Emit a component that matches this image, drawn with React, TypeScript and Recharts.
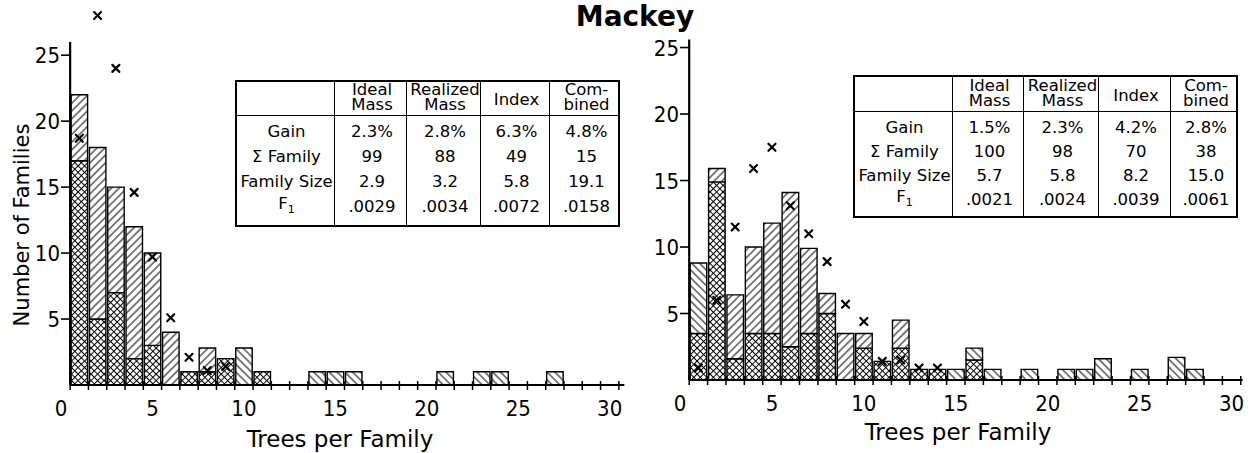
import { ComposedChart, Bar, Scatter, XAxis, YAxis, ReferenceLine } from "recharts";

// histogram bins (trees per family)
const bins = [1, 2, 3, 4, 5, 6, 7, 8, 9, 10, 11, 12, 13, 14, 15, 16, 17, 18, 19, 20, 21, 22, 23, 24, 25, 26, 27, 28, 29, 30];

// left panel, stacked parts: cross-hatched / forward hatch / back hatch
const leftCross = [17, 5, 7, 2, 3, 0, 1, 1, 2, 0, 1, 0, 0, 0, 0, 0, 0, 0, 0, 0, 0, 0, 0, 0, 0, 0, 0, 0, 0, 0];
const leftFwd = [5, 13, 8, 10, 7, 4, 0, 1.8, 0, 0, 0, 0, 0, 0, 0, 0, 0, 0, 0, 0, 0, 0, 0, 0, 0, 0, 0, 0, 0, 0];
const leftBack = [0, 0, 0, 0, 0, 0, 0, 0, 0, 2.8, 0, 0, 0, 1, 1, 1, 0, 0, 0, 0, 1, 0, 1, 1, 0, 0, 1, 0, 0, 0];
const leftMarkX = [1, 2, 3, 4, 5, 6, 7, 8, 9];
const leftMarkY = [18.7, 28, 24, 14.6, 9.7, 5.1, 2.1, 1.1, 1.4];

// right panel
const rightCross = [3.5, 14.9, 1.6, 3.5, 3.5, 2.5, 3.5, 5.0, 0, 2.4, 1.4, 2.4, 0.8, 0.8, 0, 1.5, 0, 0, 0, 0, 0, 0, 0, 0, 0, 0, 0, 0, 0, 0];
const rightFwd = [0, 1.0, 4.8, 6.5, 8.3, 11.6, 6.4, 1.5, 3.5, 1.1, 0, 2.1, 0, 0, 0, 0, 0, 0, 0, 0, 0, 0, 0, 0, 0, 0, 0, 0, 0, 0];
const rightBack = [5.3, 0, 0, 0, 0, 0, 0, 0, 0, 0, 0, 0, 0, 0, 0.8, 0.9, 0.8, 0, 0.8, 0, 0.8, 0.8, 1.6, 0, 0.8, 0, 1.7, 0.8, 0, 0];
const rightMarkX = [1, 2, 3, 4, 5, 6, 7, 8, 9, 10, 11, 12, 13, 14];
const rightMarkY = [0.9, 6.0, 11.5, 15.9, 17.5, 13.1, 11.0, 8.9, 5.7, 4.4, 1.4, 1.5, 0.9, 0.9];

const xLabelTicks = [0, 5, 10, 15, 20, 25, 30];
const xMinorTicks = [0.5, 1.5, 2.5, 3.5, 4.5, 5.5, 6.5, 7.5, 8.5, 9.5, 10.5, 11.5, 12.5, 13.5, 14.5, 15.5, 16.5, 17.5, 18.5, 19.5, 20.5, 21.5, 22.5, 23.5, 24.5, 25.5, 26.5, 27.5, 28.5, 29.5, 30.5];
const yTicks = [5, 10, 15, 20, 25];

// table
const tableHeaders = ["Ideal\nMass", "Realized\nMass", "Index", "Com-\nbined"];
const rowLabels = ["Gain", "Σ Family", "Family Size", "F1"];
const leftGain = ["2.3%", "2.8%", "6.3%", "4.8%"];
const leftFamilies = ["99", "88", "49", "15"];
const leftSize = ["2.9", "3.2", "5.8", "19.1"];
const leftF1 = [".0029", ".0034", ".0072", ".0158"];
const rightGain = ["1.5%", "2.3%", "4.2%", "2.8%"];
const rightFamilies = ["100", "98", "70", "38"];
const rightSize = ["5.7", "5.8", "8.2", "15.0"];
const rightF1 = [".0021", ".0024", ".0039", ".0061"];

const NUM_FONT = "'DejaVu Sans Condensed', 'DejaVu Sans', sans-serif";
const FONT = "'DejaVu Sans', sans-serif";
const Y_AXIS_W = 61;
const X_MAX = 31;

const XMark = (props: any) => {
  const { cx, cy } = props;
  if (cx == null || cy == null) return null;
  const s = 3.5;
  return (
    <g stroke="#000" strokeWidth={2.2} strokeLinecap="round">
      <line x1={cx - s} y1={cy - s} x2={cx + s} y2={cy + s} />
      <line x1={cx - s} y1={cy + s} x2={cx + s} y2={cy - s} />
    </g>
  );
};

interface PanelProps {
  id: string;
  left: number;
  width: number;
  marginTop: number;
  marginRight: number;
  xAxisHeight: number;
  cross: number[];
  fwd: number[];
  back: number[];
  markX: number[];
  markY: number[];
  axisTop: number;
  axisEnd: number;
}

function Panel(p: PanelProps) {
  const data = bins.map((x, i) => ({ x, cross: p.cross[i], fwd: p.fwd[i], back: p.back[i] }));
  const marks = p.markX.map((x, i) => ({ x, y: p.markY[i] }));
  const plotW = p.width - Y_AXIS_W - p.marginRight;
  const unit = plotW / X_MAX;
  const half = unit / 2;
  const allTicks = [...xLabelTicks, ...xMinorTicks].sort((a, b) => a - b);

  const xTick = ({ x, y, payload }: any) => {
    const v = payload.value;
    if (Number.isInteger(v)) {
      return (
        <text x={x} y={y + 31} textAnchor="middle" fontSize={22} fontFamily={NUM_FONT} fill="#000">
          {v}
        </text>
      );
    }
    return <line x1={x} x2={x} y1={y - 4} y2={y + 5} stroke="#000" strokeWidth={1.5} />;
  };

  const yTick = ({ x, y, payload }: any) => (
    <g>
      <line x1={x} x2={x + half} y1={y} y2={y} stroke="#000" strokeWidth={1.6} />
      <text x={x - 1} y={y + 8} textAnchor="end" fontSize={22} fontFamily={NUM_FONT} fill="#000">
        {payload.value}
      </text>
    </g>
  );

  return (
    <div style={{ position: "absolute", left: p.left, top: 0 }}>
      <ComposedChart
        width={p.width}
        height={453}
        data={data}
        margin={{ top: p.marginTop, right: p.marginRight, left: 0, bottom: 0 }}
        barCategoryGap={0}
        barGap={0}
        barSize={unit}
      >
        <defs>
          <pattern id={`cross-${p.id}`} patternUnits="userSpaceOnUse" width={4.6} height={4.6} patternTransform="rotate(45)">
            <rect width={4.6} height={4.6} fill="#fff" />
            <line x1={2.3} y1={0} x2={2.3} y2={4.6} stroke="#000" strokeWidth={1} />
            <line x1={0} y1={2.3} x2={4.6} y2={2.3} stroke="#000" strokeWidth={1} />
          </pattern>
          <pattern id={`fwd-${p.id}`} patternUnits="userSpaceOnUse" width={5.5} height={5.5} patternTransform="rotate(45)">
            <rect width={5.5} height={5.5} fill="#fff" />
            <line x1={2.75} y1={0} x2={2.75} y2={5.5} stroke="#000" strokeWidth={1} />
          </pattern>
          <pattern id={`back-${p.id}`} patternUnits="userSpaceOnUse" width={5.5} height={5.5} patternTransform="rotate(-45)">
            <rect width={5.5} height={5.5} fill="#fff" />
            <line x1={2.75} y1={0} x2={2.75} y2={5.5} stroke="#000" strokeWidth={1} />
          </pattern>
        </defs>
        <XAxis
          dataKey="x"
          type="number"
          domain={[0, X_MAX]}
          ticks={allTicks}
          interval={0}
          axisLine={false}
          tickLine={false}
          tickSize={0}
          tickMargin={0}
          height={p.xAxisHeight}
          tick={xTick}
        />
        <YAxis
          type="number"
          domain={[0, 28.5]}
          ticks={yTicks}
          interval={0}
          width={Y_AXIS_W}
          axisLine={false}
          tickLine={false}
          tickSize={0}
          tickMargin={0}
          tick={yTick}
        />
        <Bar dataKey="cross" stackId="a" fill={`url(#cross-${p.id})`} stroke="#000" strokeWidth={1.4} isAnimationActive={false} />
        <Bar dataKey="fwd" stackId="a" fill={`url(#fwd-${p.id})`} stroke="#000" strokeWidth={1.4} isAnimationActive={false} />
        <Bar dataKey="back" stackId="a" fill={`url(#back-${p.id})`} stroke="#000" strokeWidth={1.4} isAnimationActive={false} />
        <ReferenceLine segment={[{ x: 0.5, y: 0 }, { x: p.axisEnd, y: 0 }]} stroke="#000" strokeWidth={2.2} />
        <ReferenceLine segment={[{ x: 0.5, y: 0 }, { x: 0.5, y: p.axisTop }]} stroke="#000" strokeWidth={2.2} />
        <Scatter data={marks} dataKey="y" shape={XMark} isAnimationActive={false} />
      </ComposedChart>
    </div>
  );
}

interface TableProps {
  left: number;
  top: number;
  cols: number[];
  headerH: number;
  rowH: number;
  padTop: number;
  padBottom: number;
  rows: string[][];
}

function StatsTable(t: TableProps) {
  const width = t.cols.reduce((a, b) => a + b, 0);
  const height = t.headerH + t.padTop + t.rowH * rowLabels.length + t.padBottom;
  const starts = t.cols.map((_, i) => t.cols.slice(0, i).reduce((a, b) => a + b, 0));
  const cell = (text: string, i: number, top: number, h: number, key: string, header = false) => {
    const twoLine = text.includes("\n");
    return (
      <div
        key={key}
        style={{
          position: "absolute",
          left: starts[i],
          top,
          width: t.cols[i],
          height: h,
          display: "flex",
          alignItems: header && twoLine ? "flex-end" : "center",
          justifyContent: "center",
          textAlign: "center",
          whiteSpace: "pre",
          lineHeight: header ? "15px" : "18px",
          paddingBottom: header && twoLine ? 3 : 0,
          paddingTop: header && !twoLine ? 4 : 0,
          boxSizing: "border-box",
        }}
      >
        {text === "F1" ? (
          <span>
            F<sub style={{ fontSize: 11 }}>1</sub>
          </span>
        ) : (
          text
        )}
      </div>
    );
  };
  return (
    <div
      style={{
        position: "absolute",
        left: t.left,
        top: t.top,
        width,
        height,
        border: "2px solid #000",
        boxSizing: "border-box",
        fontFamily: FONT,
        fontSize: 16.5,
        color: "#000",
        background: "#fff",
      }}
    >
      {starts.slice(1).map((s, i) => (
        <div key={`v${i}`} style={{ position: "absolute", left: s - 2, top: 0, bottom: 0, borderLeft: "1.5px solid #000" }} />
      ))}
      <div style={{ position: "absolute", left: 0, right: 0, top: t.headerH - 2, borderTop: "1.5px solid #000" }} />
      {tableHeaders.map((h, i) => cell(h, i + 1, -2, t.headerH, `h${i}`, true))}
      {rowLabels.map((lab, r) => (
        <div key={`r${r}`}>
          {cell(lab, 0, t.headerH + t.padTop + r * t.rowH - 2, t.rowH, `l${r}`)}
          {t.rows[r].map((v, i) => cell(v, i + 1, t.headerH + t.padTop + r * t.rowH - 2, t.rowH, `c${r}${i}`))}
        </div>
      ))}
    </div>
  );
}

export default function App() {
  return (
    <div style={{ position: "absolute", left: 0, top: 0, width: 1250, height: 453, background: "#fff", overflow: "hidden" }}>
      <Panel
        id="L"
        left={0}
        width={640}
        marginTop={9}
        marginRight={12}
        xAxisHeight={68}
        cross={leftCross}
        fwd={leftFwd}
        back={leftBack}
        markX={leftMarkX}
        markY={leftMarkY}
        axisTop={26}
        axisEnd={30.8}
      />
      <Panel
        id="R"
        left={619}
        width={631}
        marginTop={1}
        marginRight={0}
        xAxisHeight={73}
        cross={rightCross}
        fwd={rightFwd}
        back={rightBack}
        markX={rightMarkX}
        markY={rightMarkY}
        axisTop={25.6}
        axisEnd={30.6}
      />
      <StatsTable
        left={235}
        top={80}
        cols={[99, 72, 74, 69, 71]}
        headerH={35}
        rowH={25}
        padTop={4.5}
        padBottom={7.5}
        rows={[leftGain, leftFamilies, leftSize, leftF1]}
      />
      <StatsTable
        left={853}
        top={75}
        cols={[99, 71, 75, 72, 68]}
        headerH={36}
        rowH={24}
        padTop={5}
        padBottom={6}
        rows={[rightGain, rightFamilies, rightSize, rightF1]}
      />
      <svg width={1250} height={453} style={{ position: "absolute", left: 0, top: 0, pointerEvents: "none" }}>
        <text x={635} y={26} textAnchor="middle" fontSize={28} fontWeight="bold" fontFamily={FONT}>
          Mackey
        </text>
        <text
          x={29}
          y={225}
          transform="rotate(-90, 29, 225)"
          textAnchor="middle"
          fontSize={21}
          fontFamily={FONT}
        >
          Number of Families
        </text>
        <text x={340} y={447} textAnchor="middle" fontSize={23} fontFamily={FONT}>
          Trees per Family
        </text>
        <text x={958} y={440} textAnchor="middle" fontSize={23} fontFamily={FONT}>
          Trees per Family
        </text>
      </svg>
    </div>
  );
}
